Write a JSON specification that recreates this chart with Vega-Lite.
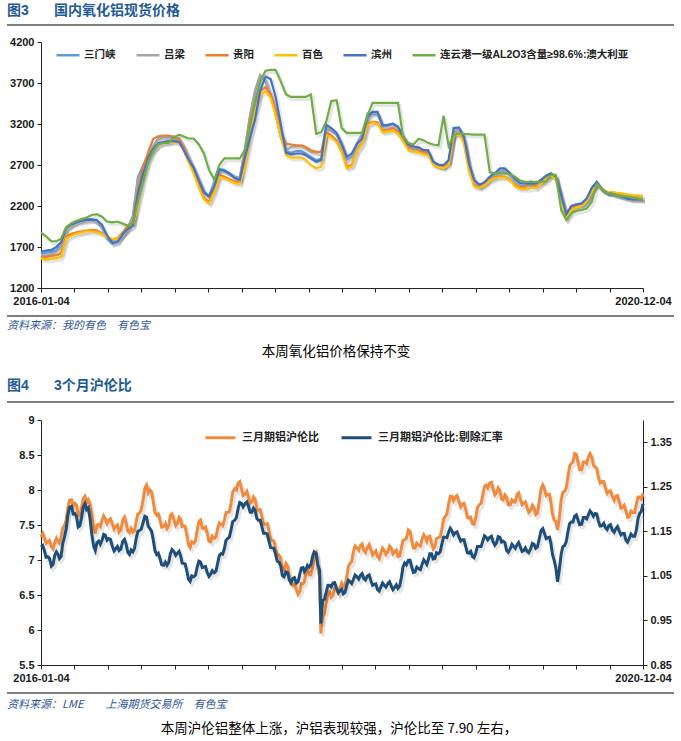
{
  "$schema": "https://vega.github.io/schema/vega-lite/v6.json",
  "background": "white",
  "padding": {"left": 6, "top": 0, "right": 0, "bottom": 0},
  "bounds": "flush",
  "spacing": 0,
  "resolve": {"scale": {"x": "independent", "y": "independent", "color": "independent"}},
  "config": {
    "view": {"stroke": null},
    "axis": {"labelFont": "Liberation Sans, Noto Sans CJK SC", "labelFontSize": 11, "labelFontWeight": "bold", "labelColor": "#1a1a1a", "domainColor": "#222", "tickColor": "#222", "tickSize": 4, "grid": false},
    "legend": {"labelFont": "Liberation Sans, Noto Sans CJK SC", "labelFontSize": 11, "labelFontWeight": "bold", "labelColor": "#222"}
  },
  "datasets": {
    "names": [
      {"k": "a", "s": "三门峡"}, {"k": "b", "s": "吕梁"}, {"k": "c", "s": "贵阳"},
      {"k": "e", "s": "百色"}, {"k": "f", "s": "滨州"}, {"k": "g", "s": "连云港一级AL2O3含量≥98.6%:澳大利亚"}
    ],
    "c1": [
      {"d":"2016-01-04","a":1620,"b":1600,"c":1570,"e":1560,"f":1645,"g":1875},
      {"d":"2016-01-19","a":1630,"b":1595,"c":1580,"e":1550,"f":1655,"g":1830},
      {"d":"2016-02-04","a":1640,"b":1610,"c":1590,"e":1555,"f":1665,"g":1770},
      {"d":"2016-02-19","a":1660,"b":1640,"c":1600,"e":1565,"f":1700,"g":1770},
      {"d":"2016-03-04","a":1720,"b":1700,"c":1620,"e":1580,"f":1760,"g":1800},
      {"d":"2016-03-19","a":1930,"b":1920,"c":1830,"e":1800,"f":1930,"g":1940},
      {"d":"2016-04-04","a":1980,"b":1970,"c":1860,"e":1840,"f":1975,"g":1990},
      {"d":"2016-04-19","a":2010,"b":2000,"c":1880,"e":1860,"f":2000,"g":2020},
      {"d":"2016-05-04","a":2030,"b":2010,"c":1890,"e":1880,"f":2020,"g":2040},
      {"d":"2016-05-19","a":2040,"b":2020,"c":1900,"e":1890,"f":2030,"g":2060},
      {"d":"2016-06-04","a":2040,"b":2030,"c":1910,"e":1890,"f":2035,"g":2090},
      {"d":"2016-06-19","a":2010,"b":2000,"c":1900,"e":1880,"f":2030,"g":2100},
      {"d":"2016-07-04","a":1930,"b":1930,"c":1870,"e":1860,"f":1970,"g":2070},
      {"d":"2016-07-19","a":1800,"b":1820,"c":1820,"e":1820,"f":1840,"g":2010},
      {"d":"2016-08-04","a":1740,"b":1760,"c":1790,"e":1800,"f":1750,"g":2000},
      {"d":"2016-08-19","a":1760,"b":1780,"c":1810,"e":1800,"f":1760,"g":2010},
      {"d":"2016-09-04","a":1850,"b":1870,"c":1880,"e":1860,"f":1860,"g":1985},
      {"d":"2016-09-19","a":1930,"b":1950,"c":1960,"e":1920,"f":1920,"g":1960},
      {"d":"2016-10-04","a":2080,"b":2050,"c":2000,"e":1960,"f":1960,"g":1990},
      {"d":"2016-10-19","a":2550,"b":2520,"c":2400,"e":2200,"f":2350,"g":2250},
      {"d":"2016-11-04","a":2700,"b":2680,"c":2680,"e":2560,"f":2600,"g":2490},
      {"d":"2016-11-19","a":2820,"b":2830,"c":2860,"e":2760,"f":2790,"g":2740},
      {"d":"2016-12-04","a":2930,"b":2930,"c":3020,"e":2880,"f":2900,"g":2870},
      {"d":"2016-12-19","a":3020,"b":3010,"c":3050,"e":2950,"f":2965,"g":2950},
      {"d":"2017-01-04","a":3040,"b":3040,"c":3060,"e":2970,"f":2980,"g":2970},
      {"d":"2017-01-19","a":3040,"b":3050,"c":3060,"e":2980,"f":2990,"g":2970},
      {"d":"2017-02-04","a":3040,"b":3050,"c":3040,"e":2980,"f":2990,"g":3040},
      {"d":"2017-02-19","a":3020,"b":3030,"c":3010,"e":2970,"f":2980,"g":3070},
      {"d":"2017-03-04","a":2930,"b":2940,"c":2920,"e":2880,"f":2890,"g":3050},
      {"d":"2017-03-19","a":2800,"b":2800,"c":2760,"e":2740,"f":2770,"g":3023},
      {"d":"2017-04-04","a":2660,"b":2660,"c":2610,"e":2590,"f":2660,"g":3023},
      {"d":"2017-04-19","a":2520,"b":2520,"c":2450,"e":2420,"f":2510,"g":2950},
      {"d":"2017-05-04","a":2380,"b":2360,"c":2300,"e":2280,"f":2370,"g":2840},
      {"d":"2017-05-19","a":2320,"b":2310,"c":2250,"e":2230,"f":2315,"g":2640},
      {"d":"2017-06-04","a":2500,"b":2480,"c":2400,"e":2360,"f":2440,"g":2520},
      {"d":"2017-06-19","a":2650,"b":2640,"c":2580,"e":2550,"f":2640,"g":2700},
      {"d":"2017-07-04","a":2640,"b":2630,"c":2560,"e":2540,"f":2630,"g":2780},
      {"d":"2017-07-19","a":2600,"b":2590,"c":2530,"e":2510,"f":2597,"g":2780},
      {"d":"2017-08-04","a":2560,"b":2550,"c":2500,"e":2480,"f":2540,"g":2780},
      {"d":"2017-08-19","a":2540,"b":2540,"c":2490,"e":2470,"f":2516,"g":2780},
      {"d":"2017-09-04","a":2900,"b":2920,"c":2850,"e":2680,"f":2800,"g":2890},
      {"d":"2017-09-19","a":3300,"b":3320,"c":3240,"e":3050,"f":3040,"g":3180},
      {"d":"2017-10-04","a":3600,"b":3620,"c":3450,"e":3350,"f":3260,"g":3480},
      {"d":"2017-10-19","a":3790,"b":3800,"c":3600,"e":3560,"f":3610,"g":3720},
      {"d":"2017-11-04","a":3720,"b":3730,"c":3650,"e":3600,"f":3780,"g":3850},
      {"d":"2017-11-19","a":3560,"b":3560,"c":3560,"e":3520,"f":3750,"g":3860},
      {"d":"2017-12-04","a":3330,"b":3320,"c":3380,"e":3300,"f":3530,"g":3860},
      {"d":"2017-12-19","a":3050,"b":3040,"c":3100,"e":3050,"f":3205,"g":3720},
      {"d":"2018-01-04","a":2860,"b":2880,"c":2960,"e":2820,"f":2850,"g":3560},
      {"d":"2018-01-19","a":2850,"b":2920,"c":2950,"e":2790,"f":2830,"g":3530},
      {"d":"2018-02-04","a":2870,"b":2930,"c":2940,"e":2790,"f":2840,"g":3530},
      {"d":"2018-02-19","a":2870,"b":2930,"c":2940,"e":2790,"f":2840,"g":3530},
      {"d":"2018-03-04","a":2840,"b":2900,"c":2920,"e":2760,"f":2820,"g":3530},
      {"d":"2018-03-19","a":2800,"b":2860,"c":2880,"e":2700,"f":2780,"g":3560},
      {"d":"2018-04-04","a":2760,"b":2850,"c":2860,"e":2660,"f":2740,"g":3080},
      {"d":"2018-04-19","a":2780,"b":2860,"c":2860,"e":2680,"f":2760,"g":3100},
      {"d":"2018-05-04","a":3150,"b":3160,"c":3100,"e":3060,"f":3190,"g":3230},
      {"d":"2018-05-19","a":3120,"b":3130,"c":3060,"e":3040,"f":3150,"g":3480},
      {"d":"2018-06-04","a":3070,"b":3080,"c":3000,"e":2980,"f":3090,"g":3490},
      {"d":"2018-06-19","a":2940,"b":2950,"c":2870,"e":2850,"f":2960,"g":3150},
      {"d":"2018-07-04","a":2770,"b":2780,"c":2680,"e":2660,"f":2800,"g":3092},
      {"d":"2018-07-19","a":2800,"b":2820,"c":2700,"e":2680,"f":2840,"g":3092},
      {"d":"2018-08-04","a":2950,"b":2970,"c":2880,"e":2870,"f":2960,"g":3092},
      {"d":"2018-08-19","a":3050,"b":3080,"c":2970,"e":2950,"f":3020,"g":3092},
      {"d":"2018-09-04","a":3300,"b":3330,"c":3200,"e":3180,"f":3280,"g":3300},
      {"d":"2018-09-19","a":3330,"b":3340,"c":3230,"e":3220,"f":3347,"g":3457},
      {"d":"2018-10-04","a":3320,"b":3330,"c":3220,"e":3200,"f":3347,"g":3457},
      {"d":"2018-10-19","a":3170,"b":3180,"c":3120,"e":3100,"f":3185,"g":3457},
      {"d":"2018-11-04","a":3180,"b":3190,"c":3130,"e":3110,"f":3190,"g":3457},
      {"d":"2018-11-19","a":3200,"b":3200,"c":3150,"e":3120,"f":3205,"g":3457},
      {"d":"2018-12-04","a":3150,"b":3160,"c":3110,"e":3080,"f":3170,"g":3457},
      {"d":"2018-12-19","a":3040,"b":3040,"c":3000,"e":2990,"f":3050,"g":3050},
      {"d":"2019-01-04","a":2930,"b":2930,"c":2900,"e":2880,"f":2945,"g":2970},
      {"d":"2019-01-19","a":2900,"b":2910,"c":2930,"e":2860,"f":2925,"g":2950},
      {"d":"2019-02-04","a":2890,"b":2890,"c":2880,"e":2850,"f":2915,"g":3020},
      {"d":"2019-02-19","a":2870,"b":2870,"c":2860,"e":2830,"f":2881,"g":3000},
      {"d":"2019-03-04","a":2860,"b":2860,"c":2850,"e":2820,"f":2881,"g":2970},
      {"d":"2019-03-19","a":2720,"b":2720,"c":2720,"e":2700,"f":2740,"g":2950},
      {"d":"2019-04-04","a":2690,"b":2690,"c":2690,"e":2670,"f":2705,"g":2940},
      {"d":"2019-04-19","a":2680,"b":2680,"c":2680,"e":2660,"f":2698,"g":3300},
      {"d":"2019-05-04","a":2740,"b":2740,"c":2730,"e":2700,"f":2760,"g":2930},
      {"d":"2019-05-19","a":3100,"b":3120,"c":3080,"e":3060,"f":3150,"g":3063},
      {"d":"2019-06-04","a":3140,"b":3140,"c":3100,"e":3090,"f":3157,"g":3084},
      {"d":"2019-06-19","a":3000,"b":3010,"c":2980,"e":2960,"f":3043,"g":3080},
      {"d":"2019-07-04","a":2680,"b":2690,"c":2640,"e":2620,"f":2718,"g":3075},
      {"d":"2019-07-19","a":2480,"b":2490,"c":2450,"e":2440,"f":2520,"g":3071},
      {"d":"2019-08-04","a":2440,"b":2450,"c":2430,"e":2420,"f":2460,"g":3071},
      {"d":"2019-08-19","a":2480,"b":2490,"c":2470,"e":2450,"f":2490,"g":3071},
      {"d":"2019-09-04","a":2540,"b":2550,"c":2520,"e":2510,"f":2560,"g":2610},
      {"d":"2019-09-19","a":2570,"b":2580,"c":2550,"e":2540,"f":2600,"g":2597},
      {"d":"2019-10-04","a":2620,"b":2630,"c":2560,"e":2550,"f":2658,"g":2597},
      {"d":"2019-10-19","a":2630,"b":2640,"c":2560,"e":2550,"f":2658,"g":2597},
      {"d":"2019-11-04","a":2570,"b":2580,"c":2520,"e":2510,"f":2600,"g":2590},
      {"d":"2019-11-19","a":2500,"b":2510,"c":2460,"e":2440,"f":2530,"g":2556},
      {"d":"2019-12-04","a":2460,"b":2470,"c":2430,"e":2410,"f":2480,"g":2510},
      {"d":"2019-12-19","a":2460,"b":2470,"c":2430,"e":2410,"f":2475,"g":2496},
      {"d":"2020-01-04","a":2460,"b":2470,"c":2500,"e":2420,"f":2475,"g":2496},
      {"d":"2020-01-19","a":2460,"b":2470,"c":2430,"e":2420,"f":2475,"g":2496},
      {"d":"2020-02-04","a":2510,"b":2520,"c":2480,"e":2470,"f":2520,"g":2496},
      {"d":"2020-02-19","a":2560,"b":2570,"c":2540,"e":2530,"f":2570,"g":2496},
      {"d":"2020-03-04","a":2590,"b":2600,"c":2580,"e":2570,"f":2597,"g":2580},
      {"d":"2020-03-19","a":2550,"b":2560,"c":2540,"e":2530,"f":2560,"g":2580},
      {"d":"2020-04-04","a":2300,"b":2320,"c":2280,"e":2250,"f":2330,"g":2150},
      {"d":"2020-04-19","a":2090,"b":2100,"c":2070,"e":2050,"f":2100,"g":2030},
      {"d":"2020-05-04","a":2180,"b":2190,"c":2170,"e":2150,"f":2200,"g":2110},
      {"d":"2020-05-19","a":2200,"b":2210,"c":2190,"e":2180,"f":2220,"g":2140},
      {"d":"2020-06-04","a":2220,"b":2230,"c":2210,"e":2200,"f":2232,"g":2151},
      {"d":"2020-06-19","a":2280,"b":2290,"c":2270,"e":2260,"f":2290,"g":2170},
      {"d":"2020-07-04","a":2400,"b":2410,"c":2390,"e":2380,"f":2420,"g":2250},
      {"d":"2020-07-19","a":2480,"b":2490,"c":2470,"e":2460,"f":2496,"g":2470},
      {"d":"2020-08-04","a":2400,"b":2410,"c":2400,"e":2400,"f":2400,"g":2400},
      {"d":"2020-08-19","a":2360,"b":2370,"c":2370,"e":2370,"f":2360,"g":2360},
      {"d":"2020-09-04","a":2350,"b":2360,"c":2360,"e":2370,"f":2350,"g":2350},
      {"d":"2020-09-19","a":2330,"b":2340,"c":2350,"e":2360,"f":2330,"g":2330},
      {"d":"2020-10-04","a":2310,"b":2320,"c":2340,"e":2350,"f":2313,"g":2320},
      {"d":"2020-10-19","a":2290,"b":2300,"c":2330,"e":2340,"f":2290,"g":2313},
      {"d":"2020-11-04","a":2280,"b":2290,"c":2320,"e":2330,"f":2281,"g":2300},
      {"d":"2020-11-19","a":2280,"b":2290,"c":2320,"e":2330,"f":2281,"g":2290},
      {"d":"2020-12-04","a":2280,"b":2290,"c":2320,"e":2320,"f":2281,"g":2281}
    ],
    "c2": [
      {"d":"2016-01-04","o":7.33,"r":1.115},{"d":"2016-01-14","o":7.32,"r":1.107},{"d":"2016-01-24","o":7.26,"r":1.093},
      {"d":"2016-02-04","o":7.19,"r":1.072},{"d":"2016-02-14","o":7.25,"r":1.096},{"d":"2016-02-24","o":7.26,"r":1.098},
      {"d":"2016-03-04","o":7.33,"r":1.094},{"d":"2016-03-14","o":7.49,"r":1.137},{"d":"2016-03-24","o":7.74,"r":1.186},
      {"d":"2016-04-04","o":7.86,"r":1.206},{"d":"2016-04-14","o":7.81,"r":1.190},{"d":"2016-04-24","o":7.64,"r":1.160},
      {"d":"2016-05-04","o":7.75,"r":1.182},{"d":"2016-05-14","o":7.91,"r":1.212},{"d":"2016-05-24","o":7.86,"r":1.203},
      {"d":"2016-06-04","o":7.64,"r":1.141},{"d":"2016-06-14","o":7.38,"r":1.107},{"d":"2016-06-24","o":7.51,"r":1.128},
      {"d":"2016-07-04","o":7.57,"r":1.130},{"d":"2016-07-14","o":7.58,"r":1.141},{"d":"2016-07-24","o":7.57,"r":1.134},
      {"d":"2016-08-04","o":7.51,"r":1.116},{"d":"2016-08-14","o":7.48,"r":1.111},{"d":"2016-08-24","o":7.40,"r":1.107},
      {"d":"2016-09-04","o":7.57,"r":1.128},{"d":"2016-09-14","o":7.53,"r":1.121},{"d":"2016-09-24","o":7.39,"r":1.098},
      {"d":"2016-10-04","o":7.40,"r":1.104},{"d":"2016-10-14","o":7.55,"r":1.134},{"d":"2016-10-24","o":7.67,"r":1.152},
      {"d":"2016-11-04","o":7.87,"r":1.171},{"d":"2016-11-14","o":8.07,"r":1.182},{"d":"2016-11-24","o":8.00,"r":1.156},
      {"d":"2016-12-04","o":7.83,"r":1.130},{"d":"2016-12-14","o":7.64,"r":1.098},{"d":"2016-12-24","o":7.57,"r":1.089},
      {"d":"2017-01-04","o":7.48,"r":1.074},{"d":"2017-01-14","o":7.45,"r":1.074},{"d":"2017-01-24","o":7.64,"r":1.100},
      {"d":"2017-02-04","o":7.57,"r":1.104},{"d":"2017-02-14","o":7.52,"r":1.101},{"d":"2017-02-24","o":7.58,"r":1.094},
      {"d":"2017-03-04","o":7.49,"r":1.078},{"d":"2017-03-14","o":7.36,"r":1.061},{"d":"2017-03-24","o":7.18,"r":1.038},
      {"d":"2017-04-04","o":7.24,"r":1.048},{"d":"2017-04-14","o":7.43,"r":1.070},{"d":"2017-04-24","o":7.57,"r":1.081},
      {"d":"2017-05-04","o":7.45,"r":1.070},{"d":"2017-05-14","o":7.38,"r":1.057},{"d":"2017-05-24","o":7.26,"r":1.054},
      {"d":"2017-06-04","o":7.31,"r":1.057},{"d":"2017-06-14","o":7.45,"r":1.078},{"d":"2017-06-24","o":7.51,"r":1.100},
      {"d":"2017-07-04","o":7.57,"r":1.111},{"d":"2017-07-14","o":7.68,"r":1.134},{"d":"2017-07-24","o":7.81,"r":1.154},
      {"d":"2017-08-04","o":8.02,"r":1.175},{"d":"2017-08-14","o":8.10,"r":1.201},{"d":"2017-08-24","o":8.02,"r":1.213},
      {"d":"2017-09-04","o":7.94,"r":1.212},{"d":"2017-09-14","o":7.90,"r":1.206},{"d":"2017-09-24","o":7.83,"r":1.193},
      {"d":"2017-10-04","o":7.86,"r":1.197},{"d":"2017-10-14","o":7.71,"r":1.175},{"d":"2017-10-24","o":7.62,"r":1.160},
      {"d":"2017-11-04","o":7.51,"r":1.146},{"d":"2017-11-14","o":7.42,"r":1.128},{"d":"2017-11-24","o":7.28,"r":1.113},
      {"d":"2017-12-04","o":7.16,"r":1.098},{"d":"2017-12-14","o":7.07,"r":1.081},{"d":"2017-12-24","o":6.88,"r":1.051},
      {"d":"2018-01-04","o":6.95,"r":1.059},{"d":"2018-01-14","o":6.76,"r":1.040},{"d":"2018-01-24","o":6.64,"r":1.044},
      {"d":"2018-02-04","o":6.57,"r":1.034},{"d":"2018-02-14","o":6.55,"r":1.054},{"d":"2018-02-24","o":6.66,"r":1.069},
      {"d":"2018-03-04","o":6.83,"r":1.064},{"d":"2018-03-14","o":6.79,"r":1.070},{"d":"2018-03-24","o":6.90,"r":1.093},
      {"d":"2018-04-04","o":7.10,"r":1.100},{"d":"2018-04-14","o":6.76,"r":1.063},{"d":"2018-04-18","o":5.95,"r":0.943},
      {"d":"2018-04-24","o":6.19,"r":0.995},{"d":"2018-05-04","o":6.40,"r":1.014},{"d":"2018-05-14","o":6.55,"r":1.029},
      {"d":"2018-05-24","o":6.50,"r":1.034},{"d":"2018-06-04","o":6.57,"r":1.022},{"d":"2018-06-14","o":6.60,"r":1.016},
      {"d":"2018-06-24","o":6.62,"r":1.010},{"d":"2018-07-04","o":6.76,"r":1.029},{"d":"2018-07-14","o":6.95,"r":1.037},
      {"d":"2018-07-24","o":7.12,"r":1.042},{"d":"2018-08-04","o":7.17,"r":1.048},{"d":"2018-08-14","o":7.21,"r":1.051},
      {"d":"2018-08-24","o":7.14,"r":1.044},{"d":"2018-09-04","o":7.18,"r":1.050},{"d":"2018-09-14","o":7.15,"r":1.040},
      {"d":"2018-09-24","o":7.10,"r":1.031},{"d":"2018-10-04","o":7.05,"r":1.019},{"d":"2018-10-14","o":7.10,"r":1.025},
      {"d":"2018-10-24","o":7.14,"r":1.029},{"d":"2018-11-04","o":7.12,"r":1.033},{"d":"2018-11-14","o":7.17,"r":1.027},
      {"d":"2018-11-24","o":7.12,"r":1.024},{"d":"2018-12-04","o":7.05,"r":1.022},{"d":"2018-12-14","o":7.17,"r":1.046},
      {"d":"2018-12-24","o":7.29,"r":1.079},{"d":"2019-01-04","o":7.43,"r":1.085},{"d":"2019-01-14","o":7.28,"r":1.070},
      {"d":"2019-01-24","o":7.17,"r":1.059},{"d":"2019-02-04","o":7.21,"r":1.066},{"d":"2019-02-14","o":7.30,"r":1.076},
      {"d":"2019-02-24","o":7.32,"r":1.081},{"d":"2019-03-04","o":7.33,"r":1.085},{"d":"2019-03-14","o":7.24,"r":1.100},
      {"d":"2019-03-24","o":7.19,"r":1.089},{"d":"2019-04-04","o":7.32,"r":1.100},{"d":"2019-04-14","o":7.44,"r":1.122},
      {"d":"2019-04-24","o":7.62,"r":1.137},{"d":"2019-05-04","o":7.80,"r":1.148},{"d":"2019-05-14","o":7.91,"r":1.151},
      {"d":"2019-05-24","o":7.90,"r":1.147},{"d":"2019-06-04","o":7.83,"r":1.137},{"d":"2019-06-14","o":7.80,"r":1.131},
      {"d":"2019-06-24","o":7.72,"r":1.116},{"d":"2019-07-04","o":7.60,"r":1.101},{"d":"2019-07-14","o":7.52,"r":1.094},
      {"d":"2019-07-24","o":7.60,"r":1.101},{"d":"2019-08-04","o":7.79,"r":1.116},{"d":"2019-08-14","o":7.93,"r":1.128},
      {"d":"2019-08-24","o":8.07,"r":1.137},{"d":"2019-09-04","o":8.10,"r":1.137},{"d":"2019-09-14","o":8.01,"r":1.126},
      {"d":"2019-09-24","o":7.96,"r":1.124},{"d":"2019-10-04","o":7.99,"r":1.137},{"d":"2019-10-14","o":7.86,"r":1.128},
      {"d":"2019-10-24","o":7.90,"r":1.107},{"d":"2019-11-04","o":7.79,"r":1.111},{"d":"2019-11-14","o":7.83,"r":1.116},
      {"d":"2019-11-24","o":7.94,"r":1.120},{"d":"2019-12-04","o":7.87,"r":1.115},{"d":"2019-12-14","o":7.81,"r":1.107},
      {"d":"2019-12-24","o":7.75,"r":1.105},{"d":"2020-01-04","o":7.71,"r":1.111},{"d":"2020-01-14","o":7.74,"r":1.121},
      {"d":"2020-01-24","o":7.67,"r":1.115},{"d":"2020-02-04","o":8.02,"r":1.152},{"d":"2020-02-14","o":8.01,"r":1.145},
      {"d":"2020-02-24","o":7.94,"r":1.136},{"d":"2020-03-04","o":7.83,"r":1.124},{"d":"2020-03-14","o":7.57,"r":1.085},
      {"d":"2020-03-24","o":7.43,"r":1.037},{"d":"2020-04-04","o":7.86,"r":1.100},{"d":"2020-04-14","o":7.98,"r":1.118},
      {"d":"2020-04-24","o":8.19,"r":1.149},{"d":"2020-05-04","o":8.38,"r":1.171},{"d":"2020-05-14","o":8.52,"r":1.184},
      {"d":"2020-05-24","o":8.40,"r":1.176},{"d":"2020-06-04","o":8.29,"r":1.166},{"d":"2020-06-14","o":8.40,"r":1.181},
      {"d":"2020-06-24","o":8.47,"r":1.187},{"d":"2020-07-04","o":8.47,"r":1.191},{"d":"2020-07-14","o":8.33,"r":1.190},
      {"d":"2020-07-24","o":8.18,"r":1.173},{"d":"2020-08-04","o":8.12,"r":1.163},{"d":"2020-08-14","o":8.02,"r":1.158},
      {"d":"2020-08-24","o":7.98,"r":1.163},{"d":"2020-09-04","o":7.90,"r":1.152},{"d":"2020-09-14","o":7.91,"r":1.156},
      {"d":"2020-09-24","o":7.83,"r":1.151},{"d":"2020-10-04","o":7.75,"r":1.145},{"d":"2020-10-14","o":7.70,"r":1.130},
      {"d":"2020-10-24","o":7.62,"r":1.134},{"d":"2020-11-04","o":7.68,"r":1.139},{"d":"2020-11-14","o":7.79,"r":1.152},
      {"d":"2020-11-24","o":7.90,"r":1.190},{"d":"2020-12-04","o":7.95,"r":1.212},
      {"d":"2016-01-09","o":7.38,"r":1.118},{"d":"2016-01-19","o":7.24,"r":1.092},{"d":"2016-01-29","o":7.28,"r":1.090},
      {"d":"2016-02-09","o":7.16,"r":1.076},{"d":"2016-02-19","o":7.31,"r":1.104},{"d":"2016-02-28","o":7.24,"r":1.089},
      {"d":"2016-03-09","o":7.46,"r":1.123},{"d":"2016-03-19","o":7.57,"r":1.155},{"d":"2016-03-29","o":7.85,"r":1.204},
      {"d":"2016-04-09","o":7.77,"r":1.189},{"d":"2016-04-19","o":7.79,"r":1.183},{"d":"2016-04-29","o":7.63,"r":1.163},
      {"d":"2016-05-09","o":7.88,"r":1.204},{"d":"2016-05-19","o":7.82,"r":1.199},{"d":"2016-05-29","o":7.80,"r":1.180},
      {"d":"2016-06-09","o":7.46,"r":1.117},{"d":"2016-06-19","o":7.50,"r":1.125},{"d":"2016-06-29","o":7.48,"r":1.121},
      {"d":"2016-07-09","o":7.63,"r":1.143},{"d":"2016-07-19","o":7.52,"r":1.130},{"d":"2016-07-29","o":7.59,"r":1.132},
      {"d":"2016-08-09","o":7.44,"r":1.106},{"d":"2016-08-19","o":7.50,"r":1.116},{"d":"2016-08-29","o":7.43,"r":1.110},
      {"d":"2016-09-09","o":7.61,"r":1.132},{"d":"2016-09-19","o":7.41,"r":1.103},{"d":"2016-09-29","o":7.45,"r":1.108},
      {"d":"2016-10-09","o":7.42,"r":1.112},{"d":"2016-10-19","o":7.66,"r":1.150},{"d":"2016-10-29","o":7.72,"r":1.155},
      {"d":"2016-11-09","o":8.03,"r":1.184},{"d":"2016-11-19","o":7.96,"r":1.161},{"d":"2016-11-29","o":7.97,"r":1.150},
      {"d":"2016-12-09","o":7.68,"r":1.107},{"d":"2016-12-19","o":7.66,"r":1.101},{"d":"2016-12-29","o":7.47,"r":1.075},
      {"d":"2017-01-09","o":7.52,"r":1.081},{"d":"2017-01-19","o":7.49,"r":1.080},{"d":"2017-01-29","o":7.66,"r":1.109},
      {"d":"2017-02-09","o":7.49,"r":1.096},{"d":"2017-02-19","o":7.61,"r":1.105},{"d":"2017-02-28","o":7.48,"r":1.079},
      {"d":"2017-03-09","o":7.48,"r":1.077},{"d":"2017-03-19","o":7.22,"r":1.043},{"d":"2017-03-29","o":7.26,"r":1.050},
      {"d":"2017-04-09","o":7.28,"r":1.052},{"d":"2017-04-19","o":7.55,"r":1.083},{"d":"2017-04-29","o":7.46,"r":1.069},
      {"d":"2017-05-09","o":7.47,"r":1.071},{"d":"2017-05-19","o":7.27,"r":1.049},{"d":"2017-05-29","o":7.34,"r":1.062},
      {"d":"2017-06-09","o":7.33,"r":1.061},{"d":"2017-06-19","o":7.53,"r":1.096},{"d":"2017-06-29","o":7.49,"r":1.099},
      {"d":"2017-07-09","o":7.68,"r":1.130},{"d":"2017-07-19","o":7.69,"r":1.137},{"d":"2017-07-29","o":7.97,"r":1.172},
      {"d":"2017-08-09","o":8.00,"r":1.181},{"d":"2017-08-19","o":8.12,"r":1.215},{"d":"2017-08-29","o":7.92,"r":1.205},
      {"d":"2017-09-09","o":7.98,"r":1.216},{"d":"2017-09-19","o":7.81,"r":1.193},{"d":"2017-09-29","o":7.90,"r":1.202},
      {"d":"2017-10-09","o":7.73,"r":1.179},{"d":"2017-10-19","o":7.72,"r":1.175},{"d":"2017-10-29","o":7.51,"r":1.146},
      {"d":"2017-11-09","o":7.52,"r":1.144},{"d":"2017-11-19","o":7.30,"r":1.114},{"d":"2017-11-29","o":7.27,"r":1.112},
      {"d":"2017-12-09","o":7.06,"r":1.083},{"d":"2017-12-19","o":7.03,"r":1.073},{"d":"2017-12-29","o":6.86,"r":1.048},
      {"d":"2018-01-09","o":6.91,"r":1.057},{"d":"2018-01-19","o":6.65,"r":1.035},{"d":"2018-01-29","o":6.66,"r":1.046},
      {"d":"2018-02-09","o":6.51,"r":1.037},{"d":"2018-02-19","o":6.66,"r":1.068},{"d":"2018-02-28","o":6.69,"r":1.060},
      {"d":"2018-03-09","o":6.87,"r":1.074},{"d":"2018-03-19","o":6.79,"r":1.075},{"d":"2018-03-29","o":7.05,"r":1.104},
      {"d":"2018-04-09","o":6.88,"r":1.075},{"d":"2018-04-21","o":6.12,"r":0.978},{"d":"2018-04-29","o":6.24,"r":0.998},
      {"d":"2018-05-09","o":6.53,"r":1.029},{"d":"2018-05-19","o":6.47,"r":1.025},{"d":"2018-05-29","o":6.59,"r":1.035},
      {"d":"2018-06-09","o":6.53,"r":1.012},{"d":"2018-06-19","o":6.67,"r":1.020},{"d":"2018-06-29","o":6.64,"r":1.013},
      {"d":"2018-07-09","o":6.91,"r":1.040},{"d":"2018-07-19","o":6.98,"r":1.033},{"d":"2018-07-29","o":7.20,"r":1.052},
      {"d":"2018-08-09","o":7.14,"r":1.043},{"d":"2018-08-19","o":7.23,"r":1.055},{"d":"2018-08-29","o":7.11,"r":1.041},
      {"d":"2018-09-09","o":7.22,"r":1.052},{"d":"2018-09-19","o":7.07,"r":1.029},{"d":"2018-09-29","o":7.13,"r":1.032},
      {"d":"2018-10-09","o":7.02,"r":1.016},{"d":"2018-10-19","o":7.17,"r":1.034},{"d":"2018-10-29","o":7.08,"r":1.025},
      {"d":"2018-11-09","o":7.20,"r":1.037},{"d":"2018-11-19","o":7.09,"r":1.019},{"d":"2018-11-29","o":7.14,"r":1.030},
      {"d":"2018-12-09","o":7.06,"r":1.027},{"d":"2018-12-19","o":7.28,"r":1.070},{"d":"2018-12-29","o":7.31,"r":1.075},
      {"d":"2019-01-09","o":7.41,"r":1.085},{"d":"2019-01-19","o":7.17,"r":1.058},{"d":"2019-01-29","o":7.24,"r":1.070},
      {"d":"2019-02-09","o":7.20,"r":1.064},{"d":"2019-02-19","o":7.36,"r":1.086},{"d":"2019-02-28","o":7.27,"r":1.076},
      {"d":"2019-03-09","o":7.34,"r":1.100},{"d":"2019-03-19","o":7.16,"r":1.088},{"d":"2019-03-29","o":7.31,"r":1.102},
      {"d":"2019-04-09","o":7.33,"r":1.104},{"d":"2019-04-19","o":7.58,"r":1.137},{"d":"2019-04-29","o":7.66,"r":1.136},
      {"d":"2019-05-09","o":7.91,"r":1.157},{"d":"2019-05-19","o":7.85,"r":1.142},{"d":"2019-05-29","o":7.92,"r":1.149},
      {"d":"2019-06-09","o":7.76,"r":1.128},{"d":"2019-06-19","o":7.81,"r":1.131},{"d":"2019-06-29","o":7.61,"r":1.102},
      {"d":"2019-07-09","o":7.61,"r":1.105},{"d":"2019-07-19","o":7.51,"r":1.091},{"d":"2019-07-29","o":7.75,"r":1.116},
      {"d":"2019-08-09","o":7.81,"r":1.116},{"d":"2019-08-19","o":8.05,"r":1.140},{"d":"2019-08-29","o":8.03,"r":1.131},
      {"d":"2019-09-09","o":8.11,"r":1.139},{"d":"2019-09-19","o":7.93,"r":1.119},{"d":"2019-09-29","o":8.03,"r":1.138},
      {"d":"2019-10-09","o":7.87,"r":1.126},{"d":"2019-10-19","o":7.93,"r":1.125},{"d":"2019-10-29","o":7.79,"r":1.103},
      {"d":"2019-11-09","o":7.86,"r":1.121},{"d":"2019-11-19","o":7.83,"r":1.112},{"d":"2019-11-29","o":7.96,"r":1.125},
      {"d":"2019-12-09","o":7.79,"r":1.105},{"d":"2019-12-19","o":7.83,"r":1.113},{"d":"2019-12-29","o":7.68,"r":1.102},
      {"d":"2020-01-09","o":7.78,"r":1.123},{"d":"2020-01-19","o":7.65,"r":1.112},
      {"d":"2020-02-09","o":8.07,"r":1.156},{"d":"2020-02-19","o":7.92,"r":1.134},{"d":"2020-02-29","o":7.94,"r":1.137},
      {"d":"2020-03-09","o":7.65,"r":1.098},{"d":"2020-03-19","o":7.55,"r":1.068},{"d":"2020-03-29","o":7.59,"r":1.062},
      {"d":"2020-04-09","o":7.97,"r":1.116},{"d":"2020-04-19","o":8.03,"r":1.127},{"d":"2020-04-29","o":8.34,"r":1.167},
      {"d":"2020-05-09","o":8.40,"r":1.171},{"d":"2020-05-19","o":8.51,"r":1.187},{"d":"2020-05-29","o":8.29,"r":1.165},
      {"d":"2020-06-09","o":8.40,"r":1.181},{"d":"2020-06-19","o":8.38,"r":1.178},{"d":"2020-06-29","o":8.52,"r":1.196},
      {"d":"2020-07-09","o":8.35,"r":1.184},{"d":"2020-07-19","o":8.31,"r":1.189},{"d":"2020-07-29","o":8.10,"r":1.162},
      {"d":"2020-08-09","o":8.12,"r":1.168},{"d":"2020-08-19","o":7.95,"r":1.154},{"d":"2020-08-29","o":7.99,"r":1.165},
      {"d":"2020-09-09","o":7.85,"r":1.148},{"d":"2020-09-19","o":7.92,"r":1.161},{"d":"2020-09-29","o":7.74,"r":1.142},
      {"d":"2020-10-09","o":7.78,"r":1.145},{"d":"2020-10-19","o":7.61,"r":1.126},{"d":"2020-10-29","o":7.70,"r":1.144},
      {"d":"2020-11-09","o":7.68,"r":1.139},{"d":"2020-11-19","o":7.90,"r":1.178},{"d":"2020-11-29","o":7.87,"r":1.195}
    ]
  },
  "vconcat": [
    {
      "width": 602, "height": 42,
      "data": {"values": [{}]},
      "encoding": {
        "x": {"datum": -34, "type": "quantitative", "scale": {"domain": [0, 602], "nice": false, "zero": false}, "axis": null},
        "y": {"datum": 11, "type": "quantitative", "scale": {"domain": [0, 42], "reverse": true, "nice": false, "zero": false}, "axis": null}
      },
      "layer": [
        {"mark": {"type": "text", "text": "图3", "align": "left", "baseline": "middle", "font": "Liberation Sans, Noto Sans CJK SC", "fontWeight": "bold", "fontSize": 14, "color": "#245A93"}},
        {"mark": {"type": "text", "text": "国内氧化铝现货价格", "align": "left", "baseline": "middle", "font": "Noto Sans CJK SC", "fontWeight": "bold", "fontSize": 14, "color": "#245A93"},
         "encoding": {"x": {"datum": 13, "type": "quantitative"}}},
        {"mark": {"type": "rule", "color": "#000", "strokeWidth": 1.2},
         "encoding": {"x2": {"datum": 633}, "y": {"datum": 25, "type": "quantitative"}}}
      ]
    },
    {
      "width": 602, "height": 246,
      "data": {"name": "c1"},
      "transform": [
        {"fold": ["a", "b", "c", "e", "f", "g"], "as": ["k", "v"]},
        {"lookup": "k", "from": {"data": {"name": "names"}, "key": "k", "fields": ["s"]}}
      ],
      "encoding": {
        "x": {"field": "d", "type": "temporal",
              "scale": {"type": "utc", "domain": [1451865600000, 1607040000000], "nice": false},
              "axis": {"title": null, "values": [1451865600000,1460486400000,1469107200000,1477728000000,1486348800000,1494969600000,1503590400000,1512211200000,1520832000000,1529452800000,1538073600000,1546694400000,1555315200000,1563936000000,1572556800000,1581177600000,1589798400000,1598419200000,1607040000000],
                       "labelExpr": "(+datum.value <= 1451865600000 || +datum.value >= 1607040000000) ? utcFormat(datum.value, '%Y-%m-%d') : ''",
                       "labelOverlap": false, "labelFlush": false, "labelPadding": 3}},
        "y": {"field": "v", "type": "quantitative",
              "scale": {"domain": [1200, 4200], "nice": false, "zero": false},
              "axis": {"title": null, "values": [1200, 1700, 2200, 2700, 3200, 3700, 4200], "format": "d", "labelPadding": 3}}
      },
      "layer": [
        {"mark": {"type": "line", "color": "#000", "opacity": 0.1, "strokeWidth": 3, "xOffset": 2, "yOffset": 2.5},
         "encoding": {"detail": {"field": "s"}}},
        {"mark": {"type": "line", "strokeWidth": 2.2},
         "encoding": {"color": {"field": "s", "type": "nominal",
            "scale": {"domain": ["三门峡", "吕梁", "贵阳", "百色", "滨州", "连云港一级AL2O3含量≥98.6%:澳大利亚"],
                      "range": ["#5B9BD5", "#A5A5A5", "#ED7D31", "#FFC000", "#4472C4", "#70AD47"]},
            "legend": {"orient": "none", "legendX": 14, "legendY": 0, "direction": "horizontal", "columns": 6, "title": null,
                       "symbolType": "stroke", "symbolSize": 529, "symbolStrokeWidth": 2.5, "labelOffset": 3, "columnPadding": 15,
                       "labelFontSize": 10.5, "labelLimit": 300}}}}
      ]
    },
    {
      "width": 602, "height": 132,
      "data": {"values": [{}]},
      "encoding": {
        "x": {"datum": -34, "type": "quantitative", "scale": {"domain": [0, 602], "nice": false, "zero": false}, "axis": null},
        "y": {"datum": 28, "type": "quantitative", "scale": {"domain": [0, 132], "reverse": true, "nice": false, "zero": false}, "axis": null}
      },
      "layer": [
        {"mark": {"type": "rule", "color": "#000", "strokeWidth": 1.2}, "encoding": {"x2": {"datum": 633}}},
        {"mark": {"type": "text", "text": "资料来源：我的有色　有色宝", "align": "left", "baseline": "middle", "font": "Noto Sans CJK SC", "fontStyle": "italic", "fontSize": 11, "color": "#2F5597"},
         "encoding": {"y": {"datum": 38, "type": "quantitative"}}},
        {"mark": {"type": "text", "text": "本周氧化铝价格保持不变", "align": "center", "baseline": "middle", "font": "Noto Sans CJK SC", "fontSize": 13.5, "color": "#000"},
         "encoding": {"x": {"datum": 295, "type": "quantitative"}, "y": {"datum": 64, "type": "quantitative"}}},
        {"mark": {"type": "text", "text": "图4", "align": "left", "baseline": "middle", "font": "Liberation Sans, Noto Sans CJK SC", "fontWeight": "bold", "fontSize": 14, "color": "#245A93"},
         "encoding": {"y": {"datum": 98, "type": "quantitative"}}},
        {"mark": {"type": "text", "text": "3个月沪伦比", "align": "left", "baseline": "middle", "font": "Liberation Sans, Noto Sans CJK SC", "fontWeight": "bold", "fontSize": 14, "color": "#245A93"},
         "encoding": {"x": {"datum": 13, "type": "quantitative"}, "y": {"datum": 98, "type": "quantitative"}}},
        {"mark": {"type": "rule", "color": "#000", "strokeWidth": 1.2}, "encoding": {"x2": {"datum": 633}, "y": {"datum": 114, "type": "quantitative"}}}
      ]
    },
    {
      "width": 602, "height": 245,
      "data": {"name": "c2"},
      "encoding": {
        "x": {"field": "d", "type": "temporal",
              "scale": {"type": "utc", "domain": [1451865600000, 1607040000000], "nice": false},
              "axis": {"title": null, "values": [1451865600000,1460486400000,1469107200000,1477728000000,1486348800000,1494969600000,1503590400000,1512211200000,1520832000000,1529452800000,1538073600000,1546694400000,1555315200000,1563936000000,1572556800000,1581177600000,1589798400000,1598419200000,1607040000000],
                       "labelExpr": "(+datum.value <= 1451865600000 || +datum.value >= 1607040000000) ? utcFormat(datum.value, '%Y-%m-%d') : ''",
                       "labelOverlap": false, "labelFlush": false, "labelPadding": 3}}
      },
      "layer": [
        {
          "encoding": {"y": {"field": "o", "type": "quantitative", "scale": {"domain": [5.5, 9], "nice": false, "zero": false},
                             "axis": {"title": null, "orient": "left", "values": [5.5, 6, 6.5, 7, 7.5, 8, 8.5, 9], "format": "~g", "labelPadding": 3}}},
          "layer": [
            {"mark": {"type": "line", "color": "#000", "opacity": 0.1, "strokeWidth": 3.5, "xOffset": 2, "yOffset": 3}},
            {"mark": {"type": "line", "strokeWidth": 3},
             "encoding": {"color": {"datum": "三月期铝沪伦比", "type": "nominal",
               "scale": {"domain": ["三月期铝沪伦比", "三月期铝沪伦比:剔除汇率"], "range": ["#F08A3C", "#1F4E79"]},
               "legend": {"orient": "none", "legendX": 163, "legendY": 1, "direction": "horizontal", "columns": 2, "title": null,
                          "symbolType": "stroke", "symbolSize": 900, "symbolStrokeWidth": 3, "labelOffset": 5, "columnPadding": 16, "labelLimit": 300}}}}
          ]
        },
        {
          "encoding": {"y": {"field": "r", "type": "quantitative", "scale": {"domain": [0.85, 1.4], "nice": false, "zero": false},
                             "axis": {"title": null, "orient": "right", "values": [0.85, 0.95, 1.05, 1.15, 1.25, 1.35], "format": ".2f", "labelPadding": 3}}},
          "layer": [
            {"mark": {"type": "line", "color": "#000", "opacity": 0.1, "strokeWidth": 3.5, "xOffset": 2, "yOffset": 3}},
            {"mark": {"type": "line", "strokeWidth": 3},
             "encoding": {"color": {"datum": "三月期铝沪伦比:剔除汇率", "type": "nominal"}}}
          ]
        }
      ],
      "resolve": {"scale": {"y": "independent"}}
    },
    {
      "width": 602, "height": 76,
      "data": {"values": [{}]},
      "encoding": {
        "x": {"datum": -34, "type": "quantitative", "scale": {"domain": [0, 602], "nice": false, "zero": false}, "axis": null},
        "y": {"datum": 28, "type": "quantitative", "scale": {"domain": [0, 76], "reverse": true, "nice": false, "zero": false}, "axis": null}
      },
      "layer": [
        {"mark": {"type": "rule", "color": "#000", "strokeWidth": 1.2}, "encoding": {"x2": {"datum": 633}}},
        {"mark": {"type": "text", "text": "资料来源：LME　　上海期货交易所　有色宝", "align": "left", "baseline": "middle", "font": "Noto Sans CJK SC", "fontStyle": "italic", "fontSize": 11, "color": "#2F5597"},
         "encoding": {"y": {"datum": 40, "type": "quantitative"}}},
        {"mark": {"type": "text", "text": "本周沪伦铝整体上涨，沪铝表现较强，沪伦比至 7.90 左右，", "align": "center", "baseline": "middle", "font": "Noto Sans CJK SC", "fontSize": 13.5, "color": "#000"},
         "encoding": {"x": {"datum": 298, "type": "quantitative"}, "y": {"datum": 64, "type": "quantitative"}}}
      ]
    }
  ]
}
